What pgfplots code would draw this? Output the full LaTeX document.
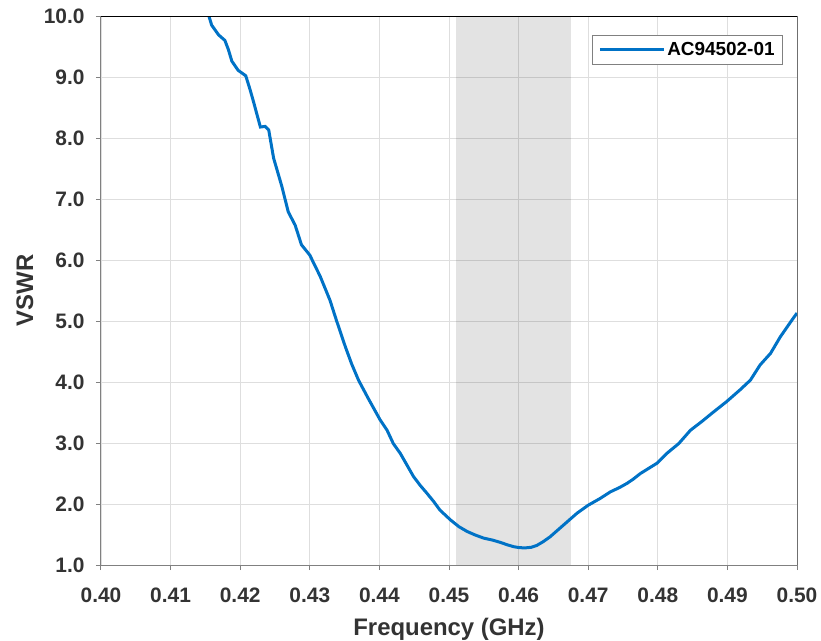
\documentclass[border=0pt]{standalone}
\usepackage{pgfplots}
\pgfplotsset{compat=1.18}
\usepackage{fontspec}
\setmainfont{Liberation Sans}
\definecolor{curveblue}{HTML}{0072C6}
\definecolor{txt}{HTML}{333333}
\definecolor{gridgray}{HTML}{DEDEDE}
\begin{document}
\begin{tikzpicture}
\begin{axis}[
    at={(0,0)}, anchor=south west,
    width=696bp, height=549bp, scale only axis,
    xmin=0.40, xmax=0.50, ymin=1, ymax=10,
    xtick={0.40,0.41,0.42,0.43,0.44,0.45,0.46,0.47,0.48,0.49,0.50},
    ytick={1,2,3,4,5,6,7,8,9,10},
    xtick pos=bottom, ytick pos=left,
    tick align=outside, major tick length=5bp,
    tick style={gray, line width=1bp},
    axis line style={draw=gray, line width=1bp},
    grid=major, grid style={gridgray, line width=0.8bp},
    /pgf/number format/assume math mode=true,
    xticklabel style={/pgf/number format/.cd, fixed, fixed zerofill, precision=2,
        /tikz/.cd, yshift=-14bp},
    yticklabel style={/pgf/number format/.cd, fixed, fixed zerofill, precision=1,
        /tikz/.cd, xshift=-8bp},
    ticklabel style={font=\fontsize{21}{24}\selectfont\bfseries, text=txt},
    xlabel={Frequency (GHz)}, ylabel={VSWR},
    label style={font=\fontsize{24}{28}\selectfont\bfseries, text=txt},
    xlabel style={at={(axis description cs:0.5,0)}, anchor=north, yshift=-50bp},
    ylabel style={at={(axis description cs:0,0.5)}, anchor=south, yshift=64bp},
    legend style={at={(rel axis cs:0.98,0.9654)}, anchor=north east,
        draw=gray, line width=1bp, font=\fontsize{19}{22}\selectfont\bfseries,
        inner xsep=6bp, inner ysep=5bp},
    legend image code/.code={\draw[#1] (0bp,0bp) -- (64bp,0bp);},
    clip=true,
]
% shaded band
\addplot[draw=none, fill=black, fill opacity=0.11, forget plot]
    coordinates {(0.4510,10) (0.4675,10)} \closedcycle;
\addplot[curveblue, line width=3bp] coordinates {
(0.4153,10.10) (0.4155,10.00) (0.4159,9.85) (0.4169,9.69) (0.4178,9.60)
(0.4183,9.45) (0.4188,9.26) (0.4197,9.11) (0.4208,9.02) (0.4214,8.80)
(0.4219,8.60) (0.4229,8.18) (0.4236,8.19) (0.4241,8.13) (0.4248,7.67)
(0.4260,7.20) (0.4269,6.79) (0.4279,6.57) (0.4288,6.25) (0.4300,6.08)
(0.4315,5.73) (0.4329,5.34) (0.4338,5.02) (0.4351,4.58) (0.4360,4.30)
(0.4370,4.03) (0.4384,3.73) (0.4401,3.38) (0.4411,3.21) (0.4420,2.99)
(0.4430,2.83) (0.4440,2.63) (0.4449,2.45) (0.4459,2.30) (0.4468,2.18)
(0.4478,2.04) (0.4487,1.90) (0.4502,1.74) (0.4514,1.63) (0.4526,1.55)
(0.4538,1.49) (0.4550,1.44) (0.4562,1.41) (0.4574,1.37) (0.4584,1.33)
(0.4593,1.30) (0.4601,1.285) (0.4609,1.28) (0.4618,1.29) (0.4626,1.32)
(0.4635,1.38) (0.4645,1.46) (0.4655,1.56) (0.4665,1.66) (0.4675,1.76)
(0.4684,1.85) (0.4700,1.98) (0.4717,2.09) (0.4732,2.20) (0.4745,2.27)
(0.4756,2.34) (0.4765,2.41) (0.4775,2.50) (0.4799,2.67) (0.4813,2.83)
(0.4830,2.99) (0.4847,3.21) (0.4863,3.35) (0.4878,3.49) (0.4899,3.68)
(0.4918,3.87) (0.4933,4.03) (0.4947,4.28) (0.4962,4.47) (0.4976,4.74)
(0.4993,5.02) (0.5000,5.13)
};
\addlegendentry{AC94502-01}
\draw[black, line width=1bp] (rel axis cs:0,1) -- (rel axis cs:1,1) -- (rel axis cs:1,0);
\end{axis}
\pgfresetboundingbox
\path[use as bounding box] (-101bp,-76bp) rectangle (720bp,565bp);
\end{tikzpicture}
\end{document}
